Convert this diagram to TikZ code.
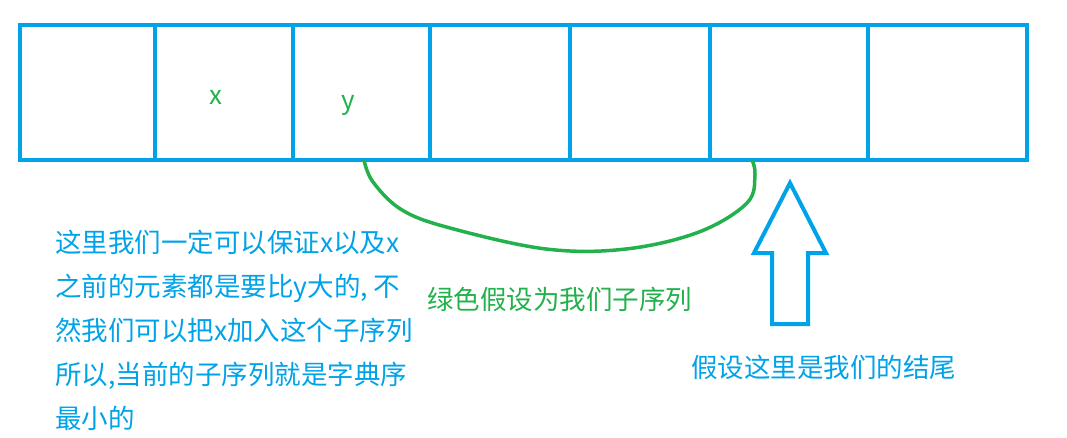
\documentclass[tikz,border=0pt]{standalone}
\usepackage{fontspec}
\setmainfont{Noto Sans CJK SC}
\usepackage{tikz}
\usetikzlibrary{arrows,positioning}
\usetikzlibrary{calc}
\definecolor{pblue}{RGB}{0,162,232}
\definecolor{pgreen}{RGB}{34,177,76}
\tikzstyle{cell}=[draw=pblue, line width=4pt, minimum height=135pt, outer sep=0pt, inner sep=0pt]
\tikzstyle{lbl}=[text=pgreen, font=\fontsize{26}{30}\selectfont, inner sep=0pt]
\tikzstyle{note}=[font=\fontsize{26.5}{44}\selectfont, align=left, inner sep=0pt]

\begin{document}
\begin{tikzpicture}[x=1pt, y=-1pt]
\useasboundingbox (0,0) rectangle (1067,438);
\node[cell, minimum width=135pt, anchor=north west] (c1) at (20,25) {};
\node[cell, minimum width=138pt, right=0pt of c1] (c2) {};
\node[cell, minimum width=137pt, right=0pt of c2] (c3) {};
\node[cell, minimum width=140pt, right=0pt of c3] (c4) {};
\node[cell, minimum width=140pt, right=0pt of c4] (c5) {};
\node[cell, minimum width=158pt, right=0pt of c5] (c6) {};
\node[cell, minimum width=159pt, right=0pt of c6] (c7) {};
\node[lbl] (x) at (216,97) {x};
\node[lbl] (y) at (348,105) {y};
% green sub-sequence
\coordinate (ys) at (364,160);
\coordinate (ye) at (752,160);
\draw[pgreen, line width=3.5pt, line cap=round] plot[smooth, tension=0.6] coordinates {(ys) (373,182) (402,210) (450,228) (546,249) (626,249) (699,232) (747,203) (755,175) (ye)};
% hollow arrow
\coordinate (tip) at (790,183);
\draw[pblue, line width=4pt] (tip) -- ++(36,70) -- ++(-18,0) -- ++(0,71) -- ++(-36,0) -- ++(0,-71) -- ++(-18,0) -- cycle;
\node[note, text=pblue, anchor=north west] (why) at (55,230) {这里我们一定可以保证x以及x\\之前的元素都是要比y大的, 不\\然我们可以把x加入这个子序列\\所以,当前的子序列就是字典序\\最小的};
\node[note, text=pgreen, anchor=west] (sub) at (427,299) {绿色假设为我们子序列};
\node[note, text=pblue, anchor=west] (end) at (691,367) {假设这里是我们的结尾};
\end{tikzpicture}
\end{document}
